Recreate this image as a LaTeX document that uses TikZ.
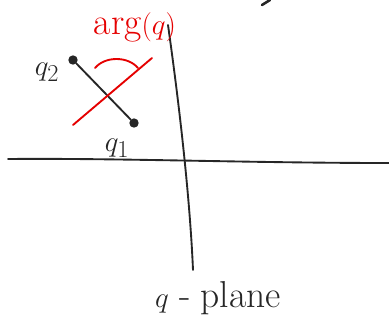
\documentclass[tikz,border=0pt]{standalone}
\usepackage{amsmath,amssymb}
\usepackage{xcolor}
\usepackage{tikz}
\usetikzlibrary{arrows.meta,positioning,calc}

\begin{document}
\begin{tikzpicture}[
	x=0.03cm, y=-0.03cm,
	stroke/.style={line width=1.6pt, draw=black!85, line cap=round},
	redstroke/.style={line width=1.6pt, draw=red!90!black, line cap=round},
	charge/.style={circle, fill=black!85, inner sep=0pt, minimum size=8pt},
	lbl/.style={font=\fontsize{32}{34}\selectfont, text=black!85, inner sep=0pt},
	redlbl/.style={font=\fontsize{32}{34}\selectfont, text=red!90!black, inner sep=0pt}
]
\useasboundingbox (0,0) rectangle (389,324);
% axes
\coordinate (xl) at (8,159);
\coordinate (xr) at (389,163);
\coordinate (yt) at (168,25);
\coordinate (yb) at (193,270);
\draw[stroke] (xl) .. controls (120,158) and (250,163) .. (xr);
\draw[stroke] (yt) .. controls (180,110) and (190,200) .. (yb);
% stray mark at the top
\coordinate (m1) at (262,5);
\coordinate (m2) at (270,0);
\draw[stroke, line width=2.2pt] (m1) -- (m2);
% charges
\node[charge] (q2) at (73,60) {};
\node[charge] (q1) at (134,123) {};
\draw[stroke] (q2) -- (q1);
\node[lbl] (q2lbl) at (47,72) {$q_2$};
\node[lbl] (q1lbl) at (117,148) {$q_1$};
% angle
\coordinate (r1) at (73,125);
\coordinate (r2) at (152,58);
\draw[redstroke] (r1) -- (r2);
\coordinate (a1) at (95,68);
\coordinate (a2) at (138,68);
\draw[redstroke] (a1) .. controls (105,56) and (128,56) .. (a2);
\node[redlbl] (arg) at (135,27) {arg$(q)$};
\node[lbl] (plane) at (218,298) {$q$\;-\;plane};
\end{tikzpicture}
\end{document}
